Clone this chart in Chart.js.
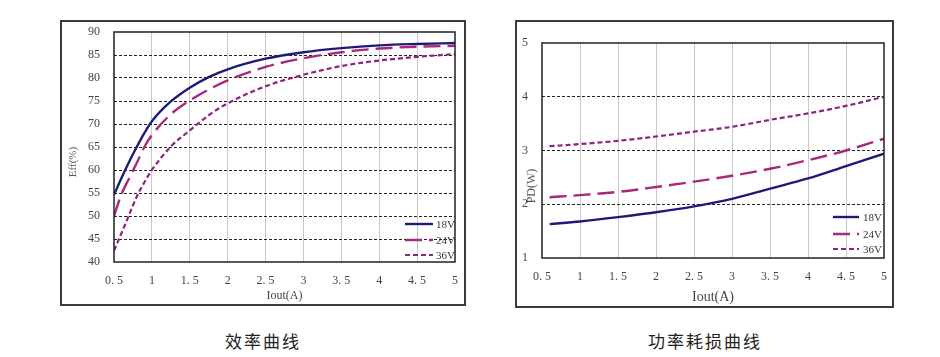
<!DOCTYPE html>
<html><head><meta charset="utf-8">
<script src="https://cdn.jsdelivr.net/npm/chart.js@4.4.1/dist/chart.umd.min.js"></script>
<style>
html,body{margin:0;padding:0;background:#fff;width:940px;height:357px;overflow:hidden;position:relative;}
.box{position:absolute;border:2px solid #3a3a3a;box-sizing:border-box;}
canvas{position:absolute;}
.cap{position:absolute;font-family:"Noto Sans CJK SC";font-size:17px;letter-spacing:2px;color:#222;top:328px;white-space:nowrap;}
</style></head><body>
<div class="box" style="left:60px;top:20px;width:406px;height:286px;"></div>
<canvas id="c1" width="402" height="282" style="left:62px;top:22px;"></canvas>
<div class="box" style="left:515px;top:20px;width:379px;height:288px;"></div>
<canvas id="c2" width="375" height="284" style="left:517px;top:22px;"></canvas>
<div class="cap" style="left:225px;">效率曲线</div>
<div class="cap" style="left:648px;">功率耗损曲线</div>
<script>
// ---- data ----
const seriesNames = ['18V', '24V', '36V'];
const effX = [0.5, 0.6, 0.7, 0.8, 0.9, 1.0, 1.25, 1.5, 1.75, 2.0, 2.5, 3.0, 3.5, 4.0, 4.5, 5.0];
const eff18 = [54.6, 58.3, 61.8, 65.0, 68.0, 70.6, 74.9, 77.9, 80.2, 81.9, 84.2, 85.6, 86.5, 87.1, 87.4, 87.6];
const eff24 = [50.0, 54.8, 58.2, 61.5, 65.0, 67.6, 72.1, 75.1, 77.5, 79.5, 82.4, 84.3, 85.6, 86.4, 86.8, 87.0];
const eff36 = [42.5, 46.3, 50.3, 54.2, 57.3, 60.0, 65.1, 68.6, 71.9, 74.5, 78.2, 80.7, 82.6, 83.8, 84.6, 85.2];
const pdX = [0.6, 1.0, 1.5, 2.0, 2.5, 3.0, 3.5, 4.0, 4.5, 5.0];
const pd18 = [1.63, 1.68, 1.76, 1.85, 1.96, 2.10, 2.29, 2.48, 2.71, 2.94];
const pd24 = [2.13, 2.17, 2.23, 2.32, 2.42, 2.53, 2.66, 2.82, 3.00, 3.22];
const pd36 = [3.08, 3.12, 3.18, 3.26, 3.35, 3.44, 3.57, 3.69, 3.83, 4.00];
const xTickLabels = ['0. 5', '1', '1. 5', '2', '2. 5', '3', '3. 5', '4', '4. 5', '5'];
const effYTicks = ['40', '45', '50', '55', '60', '65', '70', '75', '80', '85', '90'];
const pdYTicks = ['1', '2', '3', '4', '5'];

// ---- styles ----
const colors = ['#1e1b78', '#a8287f', '#8c2285'];
const dashes = [[], [17, 7], [5, 3]];
const widths = [2.4, 2.4, 2.2];
const serif = '"Liberation Serif", "DejaVu Serif", serif';

function pts(xs, ys) { return xs.map((x, i) => ({x: x, y: ys[i]})); }

function makeDatasets(xs, arrs) {
  return arrs.map((a, i) => ({
    label: seriesNames[i], data: pts(xs, a),
    borderColor: colors[i], borderWidth: widths[i], borderDash: dashes[i],
    pointRadius: 0, fill: false, tension: 0.4, cubicInterpolationMode: 'monotone'
  }));
}

const framePlugin = {
  id: 'frame',
  afterDraw(chart, args, opts) {
    const {ctx, chartArea: a} = chart;
    ctx.save();
    ctx.strokeStyle = '#222'; ctx.lineWidth = 1.5; ctx.setLineDash([]);
    ctx.strokeRect(a.left, a.top, a.right - a.left, a.bottom - a.top);
    // legend
    ctx.font = opts.legendFont + ' ' + serif;
    ctx.textBaseline = 'middle'; ctx.textAlign = 'left'; ctx.fillStyle = '#333';
    chart.data.datasets.forEach((ds, i) => {
      const y = a.bottom - opts.legendY[i];
      ctx.beginPath();
      ctx.strokeStyle = ds.borderColor; ctx.lineWidth = ds.borderWidth;
      ctx.setLineDash(ds.borderDash);
      ctx.moveTo(a.right - opts.legendStart, y);
      ctx.lineTo(a.right - opts.legendEnd, y);
      ctx.stroke();
      ctx.fillText(ds.label, a.right - opts.legendText, y + 1);
    });
    // y title
    ctx.setLineDash([]);
    ctx.translate(opts.yTitleX, opts.yTitleY);
    ctx.rotate(-Math.PI / 2);
    ctx.textAlign = 'center';
    ctx.font = opts.yTitleFont + ' ' + serif;
    ctx.fillStyle = '#555';
    ctx.fillText(opts.yTitle, 0, 0);
    ctx.restore();
  }
};

function fixW(w) { return function (s) { s.width = w; s.paddingTop = 0; s.paddingBottom = 0; s.paddingLeft = 0; s.paddingRight = 0; }; }
function fixH(h) { return function (s) { s.height = h; s.paddingTop = 0; s.paddingBottom = 0; s.paddingLeft = 0; s.paddingRight = 0; }; }

function makeChart(id, xs, arrs, yMin, yMax, yStep, yLabels, cfg) {
  return new Chart(document.getElementById(id), {
    type: 'line',
    data: {datasets: makeDatasets(xs, arrs)},
    options: {
      responsive: false, animation: false, devicePixelRatio: 1,
      layout: {padding: cfg.padding},
      plugins: {legend: {display: false}, tooltip: {enabled: false}, frame: cfg.frame},
      scales: {
        x: {
          type: 'linear', min: 0.5, max: 5,
          ticks: {stepSize: 0.5, padding: cfg.xTickPad, color: '#444', font: {family: serif, size: cfg.tickSize},
                  callback: (v, i) => xTickLabels[i], maxRotation: 0, autoSkip: false},
          grid: {drawTicks: false, color: c => (c.tick && (c.tick.value === 0.5 || c.tick.value === 5)) ? 'rgba(0,0,0,0)' : '#c9c9c9', lineWidth: 1},
          border: {display: false},
          title: {display: true, text: 'Iout(A)', color: '#444', font: {family: serif, size: cfg.xTitleSize}, padding: {top: 0, bottom: cfg.xTitlePad}},
          afterFit: fixH(cfg.xH)
        },
        y: {
          type: 'linear', min: yMin, max: yMax,
          ticks: {stepSize: yStep, padding: cfg.yTickPad, color: '#444', font: {family: serif, size: cfg.tickSize},
                  callback: (v, i) => yLabels[i]},
          grid: {drawTicks: false, color: c => (c.tick && (c.tick.value === yMin || c.tick.value === yMax)) ? 'rgba(0,0,0,0)' : '#222', lineWidth: 1},
          border: {display: false, dash: [3, 2]},
          afterFit: fixW(cfg.yW)
        }
      }
    },
    plugins: [framePlugin]
  });
}

makeChart('c1', effX, [eff18, eff24, eff36], 40, 90, 5, effYTicks, {
  padding: {top: 10, right: 9, left: 0, bottom: 0},
  xH: 42, yW: 52, xTickPad: 12, yTickPad: 14, tickSize: 12, xTitleSize: 12, xTitlePad: 1,
  frame: {legendFont: '11px', legendY: [38, 22, 7], legendStart: 50, legendEnd: 22, legendText: 19,
          yTitle: 'Eff(%)', yTitleX: 11, yTitleY: 140, yTitleFont: '11px'}
});
makeChart('c2', pdX, [pd18, pd24, pd36], 1, 5, 1, pdYTicks, {
  padding: {top: 21, right: 8, left: 0, bottom: 0},
  xH: 48, yW: 25, xTickPad: 12, yTickPad: 14, tickSize: 12, xTitleSize: 14, xTitlePad: 0,
  frame: {legendFont: '11px', legendY: [41, 24, 9], legendStart: 51, legendEnd: 25, legendText: 21,
          yTitle: 'PD(W)', yTitleX: 15, yTitleY: 164, yTitleFont: '12px'}
});
</script>
</body></html>
